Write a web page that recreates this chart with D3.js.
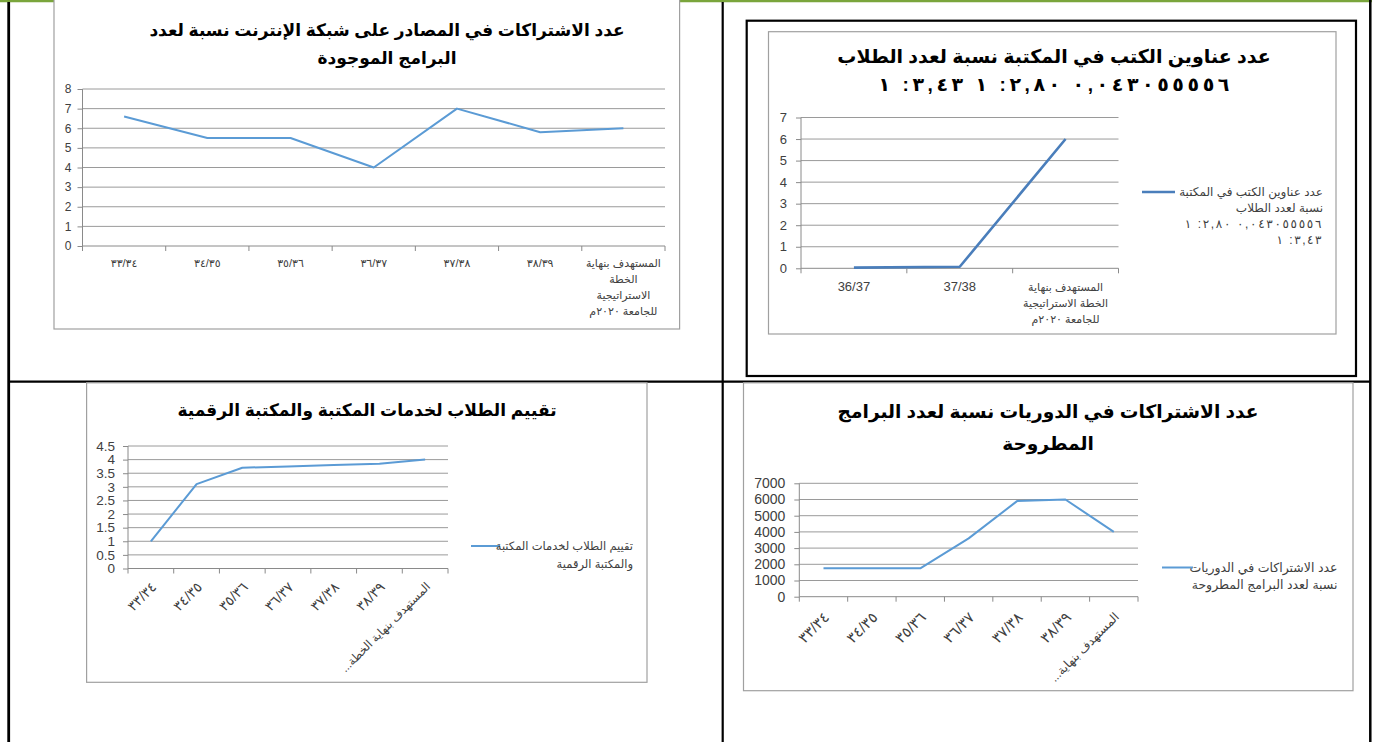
<!DOCTYPE html>
<html>
<head>
<meta charset="utf-8">
<script src="https://cdn.jsdelivr.net/npm/d3@7"></script>
<style>
  body { margin: 0; background: #fff; }
  svg text { font-family: Arial, 'Liberation Sans', 'DejaVu Sans', sans-serif; }
</style>
</head>
<body>
<svg id="page" width="1375" height="742"></svg>
<script>
// ---- data ----
var yearCats = ['٣٣/٣٤', '٣٤/٣٥', '٣٥/٣٦', '٣٦/٣٧', '٣٧/٣٨', '٣٨/٣٩', 'المستهدف بنهاية الخطة الاستراتيجية للجامعة ٢٠٢٠م']

// chart 1: online resources subscriptions
var onlineTitle = ['عدد الاشتراكات في المصادر على شبكة الإنترنت نسبة لعدد', 'البرامج الموجودة']
var onlineValues = [6.6, 5.5, 5.5, 4.0, 7.0, 5.8, 6.0]
var onlineTicks = [0, 1, 2, 3, 4, 5, 6, 7, 8]
var onlineLabels = [['٣٣/٣٤'], ['٣٤/٣٥'], ['٣٥/٣٦'], ['٣٦/٣٧'], ['٣٧/٣٨'], ['٣٨/٣٩'],
  ['المستهدف بنهاية', 'الخطة', 'الاستراتيجية', 'للجامعة ٢٠٢٠م']]

// chart 2: book titles per student
var bookTitle = ['عدد عناوين الكتب في المكتبة نسبة لعدد الطلاب', '\u202D١ :٣,٤٣ ١ :٢,٨٠ ٠,٠٤٣٠٥٥٥٥٦\u202C']
var bookCats = ['36/37', '37/38', 'المستهدف بنهاية الخطة الاستراتيجية للجامعة ٢٠٢٠م']
var bookValues = [0.03, 0.07, 6]
var bookTicks = [0, 1, 2, 3, 4, 5, 6, 7]
var bookLabels = [['36/37'], ['37/38'], ['المستهدف بنهاية', 'الخطة الاستراتيجية', 'للجامعة ٢٠٢٠م']]
var bookLegend = ['عدد عناوين الكتب في المكتبة', 'نسبة لعدد الطلاب', '\u202D١ :٢,٨٠ ٠,٠٤٣٠٥٥٥٥٦\u202C', '\u202D١ :٣,٤٣\u202C']

// chart 3: student rating of library services
var ratingTitle = ['تقييم الطلاب لخدمات المكتبة والمكتبة الرقمية']
var ratingValues = [1, 3.1, 3.7, 3.75, 3.8, 3.85, 4]
var ratingTicks = [0, 0.5, 1, 1.5, 2, 2.5, 3, 3.5, 4, 4.5]
var ratingLabels = ['٣٣/٣٤', '٣٤/٣٥', '٣٥/٣٦', '٣٦/٣٧', '٣٧/٣٨', '٣٨/٣٩', 'المستهدف بنهاية الخطة...\u200F']
var ratingLegend = ['تقييم الطلاب لخدمات المكتبة', 'والمكتبة الرقمية']

// chart 4: periodical subscriptions
var periodTitle = ['عدد الاشتراكات في الدوريات نسبة لعدد البرامج', 'المطروحة']
var periodValues = [1750, 1750, 1750, 3600, 5900, 6000, 4000]
var periodTicks = [0, 1000, 2000, 3000, 4000, 5000, 6000, 7000]
var periodLabels = ['٣٣/٣٤', '٣٤/٣٥', '٣٥/٣٦', '٣٦/٣٧', '٣٧/٣٨', '٣٨/٣٩', 'المستهدف بنهاية...\u200F']
var periodLegend = ['عدد الاشتراكات في الدوريات', 'نسبة لعدد البرامج المطروحة']

var svg = d3.select('#page')

// ---- table borders ----
svg.append('line').attr('x1', 0).attr('x2', 1372).attr('y1', 1).attr('y2', 1)
  .attr('stroke', '#7aa53c').attr('stroke-width', 2.5)
svg.append('line').attr('x1', 8.7).attr('x2', 8.7).attr('y1', 2).attr('y2', 742)
  .attr('stroke', '#000').attr('stroke-width', 2.8)
svg.append('line').attr('x1', 1370.3).attr('x2', 1370.3).attr('y1', 0).attr('y2', 742)
  .attr('stroke', '#000').attr('stroke-width', 2.5)
svg.append('line').attr('x1', 722.7).attr('x2', 722.7).attr('y1', 2).attr('y2', 742)
  .attr('stroke', '#000').attr('stroke-width', 2.2)
svg.append('line').attr('x1', 8).attr('x2', 1371).attr('y1', 381.7).attr('y2', 381.7)
  .attr('stroke', '#000').attr('stroke-width', 2.2)

// box drawn round chart 2
svg.append('rect').attr('x', 746.7).attr('y', 20.7).attr('width', 609.3).attr('height', 355.3)
  .attr('fill', 'none').attr('stroke', '#000').attr('stroke-width', 2.2)

var isDigits = function (s) { return /^[0-9\u0660-\u0669\/]+$/.test(s) }

function drawChart(cfg) {
  var g = svg.append('g')

  // chart frame
  g.append('rect')
    .attr('x', cfg.frame[0]).attr('y', cfg.frame[1])
    .attr('width', cfg.frame[2] - cfg.frame[0]).attr('height', cfg.frame[3] - cfg.frame[1])
    .attr('fill', '#fff').attr('stroke', '#a0a0a0').attr('stroke-width', 1.2)

  // title (a line may be stretched to a set length, letter-spacing does not apply here)
  g.selectAll('.title').data(cfg.title).enter().append('text')
    .attr('class', 'title')
    .attr('x', cfg.titleX)
    .attr('y', function (d, i) { return cfg.titleY + i * cfg.titleGap })
    .attr('text-anchor', 'middle')
    .attr('font-weight', 'bold')
    .attr('font-size', cfg.titleSize)
    .attr('textLength', function (d, i) { return cfg.titleLengths ? cfg.titleLengths[i] : null })
    .attr('lengthAdjust', 'spacing')
    .attr('fill', '#000')
    .text(function (d) { return d })

  var x = d3.scaleBand().domain(cfg.cats).range([cfg.plot.left, cfg.plot.right])
  var y = d3.scaleLinear().domain([0, d3.max(cfg.ticks)]).range([cfg.plot.bottom, cfg.plot.top])

  // gridlines
  g.append('g').selectAll('line').data(cfg.ticks.slice(1)).enter().append('line')
    .attr('x1', cfg.plot.left).attr('x2', cfg.plot.right)
    .attr('y1', function (d) { return y(d) }).attr('y2', function (d) { return y(d) })
    .attr('stroke', '#9a9a9a').attr('stroke-width', 1)

  // y axis
  var yAxis = g.append('g')
    .attr('transform', 'translate(' + cfg.plot.left + ',0)')
    .call(d3.axisLeft(y).tickValues(cfg.ticks).tickSize(5).tickPadding(cfg.yPad).tickFormat(d3.format('')))
  yAxis.select('.domain').attr('stroke', '#8a8a8a').attr('d', 'M0,' + cfg.plot.top + 'V' + cfg.plot.bottom)
  yAxis.selectAll('.tick line').attr('stroke', '#8a8a8a')
  yAxis.selectAll('.tick text')
    .attr('font-size', cfg.yFont).attr('fill', '#404040')
    .attr('font-family', 'Arial, "Liberation Sans", sans-serif')

  // x axis: line and tick marks on the band edges
  g.append('line')
    .attr('x1', cfg.plot.left).attr('x2', cfg.plot.right)
    .attr('y1', cfg.plot.bottom).attr('y2', cfg.plot.bottom)
    .attr('stroke', '#8a8a8a')
  var edges = cfg.cats.map(function (c) { return x(c) }).concat([cfg.plot.right])
  g.append('g').selectAll('line').data(edges).enter().append('line')
    .attr('x1', function (d) { return d }).attr('x2', function (d) { return d })
    .attr('y1', cfg.plot.bottom).attr('y2', cfg.plot.bottom + 5)
    .attr('stroke', '#8a8a8a')

  var cx = function (i) { return x(cfg.cats[i]) + x.bandwidth() / 2 }

  // x labels
  if (cfg.rotated) {
    g.append('g').selectAll('text').data(cfg.labels).enter().append('text')
      .attr('transform', function (d, i) {
        return 'translate(' + (cx(i) + cfg.rotDx) + ',' + (cfg.plot.bottom + cfg.rotDy) + ') rotate(-45)'
      })
      .attr('text-anchor', 'end')
      .attr('dy', '0.35em')
      .attr('font-size', function (d) { return isDigits(d) ? cfg.xFontDigits : cfg.xFont })
      .attr('fill', '#404040')
      .text(function (d) { return d })
  } else {
    cfg.labels.forEach(function (lines, i) {
      g.append('g').selectAll('text').data(lines).enter().append('text')
        .attr('x', cx(i))
        .attr('y', function (d, j) { return cfg.plot.bottom + cfg.xLabelY + j * cfg.xLineGap })
        .attr('text-anchor', 'middle')
        .attr('font-size', function (d) { return isDigits(d) ? cfg.xFontDigits : cfg.xFont })
        .attr('fill', '#404040')
        .text(function (d) { return d })
    })
  }

  // the line
  var line = d3.line()
    .x(function (d, i) { return cx(i) })
    .y(function (d) { return y(d) })
  g.append('path').datum(cfg.values)
    .attr('d', line)
    .attr('fill', 'none')
    .attr('stroke', cfg.color)
    .attr('stroke-width', cfg.lineWidth)
    .attr('stroke-linejoin', 'round')

  // legend
  if (cfg.legend) {
    var lp = cfg.legendPos
    g.append('line')
      .attr('x1', lp.x1).attr('x2', lp.x2)
      .attr('y1', lp.y).attr('y2', lp.y)
      .attr('stroke', cfg.color).attr('stroke-width', cfg.lineWidth)
    g.selectAll('.legend').data(cfg.legend).enter().append('text')
      .attr('x', lp.textX)
      .attr('y', function (d, i) { return lp.y + i * lp.gap })
      .attr('dy', '0.35em')
      .attr('text-anchor', 'end')
      .attr('font-size', lp.font)
      .attr('textLength', function (d, i) { return lp.lengths ? lp.lengths[i] : null })
      .attr('lengthAdjust', 'spacing')
      .attr('fill', '#404040')
      .text(function (d) { return d })
  }
}

drawChart({
  frame: [54, -2, 679.6, 329],
  title: onlineTitle, titleX: 387, titleY: 36, titleGap: 28, titleSize: 17,
  cats: yearCats, values: onlineValues, ticks: onlineTicks,
  plot: { left: 82.5, right: 665, top: 89, bottom: 246 },
  yPad: 6, yFont: 12,
  labels: onlineLabels, xLabelY: 21, xLineGap: 16, xFont: 11, xFontDigits: 11,
  color: '#5b9bd5', lineWidth: 2
})

drawChart({
  frame: [768.5, 31.7, 1336, 334],
  title: bookTitle, titleX: 1054, titleY: 63, titleGap: 28, titleSize: 19, titleLengths: [null, 358],
  cats: bookCats, values: bookValues, ticks: bookTicks,
  plot: { left: 801, right: 1118.5, top: 117.5, bottom: 268.3 },
  yPad: 9, yFont: 13,
  labels: bookLabels, xLabelY: 23, xLineGap: 16, xFont: 11, xFontDigits: 13,
  color: '#4a7ebb', lineWidth: 2.6,
  legend: bookLegend,
  legendPos: { x1: 1142, x2: 1175, y: 192, textX: 1323, gap: 16, font: 12, lengths: [null, null, 140, 48] }
})

drawChart({
  frame: [86.6, 382.8, 647, 682.3],
  title: ratingTitle, titleX: 367, titleY: 416, titleGap: 28, titleSize: 17,
  cats: yearCats, values: ratingValues, ticks: ratingTicks,
  plot: { left: 128, right: 448, top: 446, bottom: 568.5 },
  yPad: 8, yFont: 13.5,
  rotated: true, labels: ratingLabels, rotDx: 3, rotDy: 16, xFont: 11.5, xFontDigits: 14,
  color: '#5b9bd5', lineWidth: 2,
  legend: ratingLegend,
  legendPos: { x1: 471, x2: 500, y: 546, textX: 633, gap: 18, font: 11.5 }
})

drawChart({
  frame: [743.5, 382.8, 1353, 690.7],
  title: periodTitle, titleX: 1048, titleY: 418, titleGap: 31.5, titleSize: 18.6,
  cats: yearCats, values: periodValues, ticks: periodTicks,
  plot: { left: 799.3, right: 1138, top: 483.3, bottom: 596.7 },
  yPad: 9, yFont: 14,
  rotated: true, labels: periodLabels, rotDx: 3, rotDy: 18, xFont: 12, xFontDigits: 15,
  color: '#5b9bd5', lineWidth: 2,
  legend: periodLegend,
  legendPos: { x1: 1162, x2: 1193, y: 567.5, textX: 1337.5, gap: 17, font: 12.5 }
})
</script>
</body>
</html>
